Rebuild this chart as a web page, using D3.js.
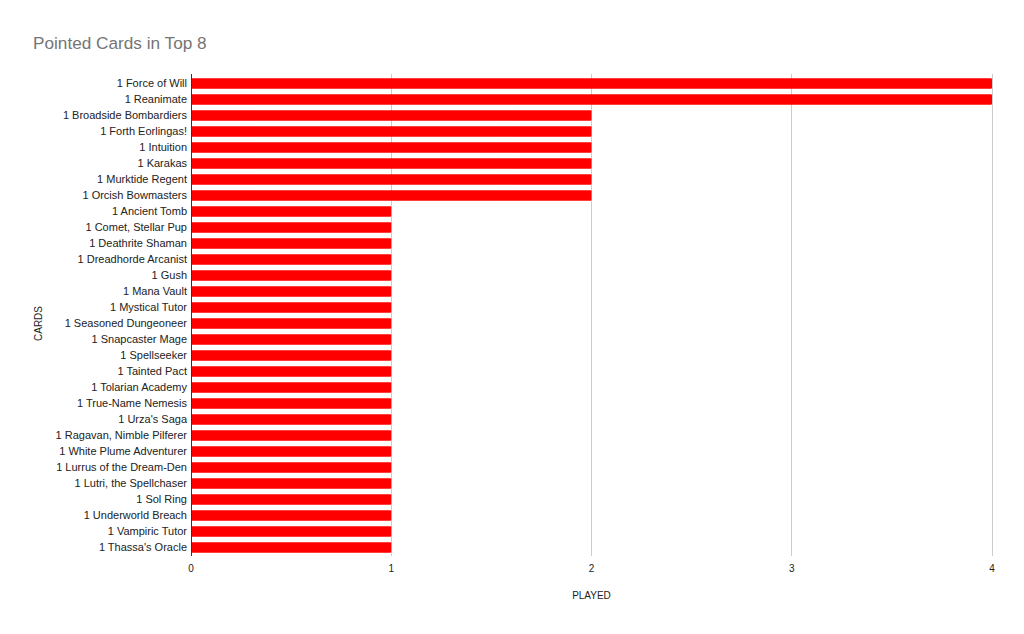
<!DOCTYPE html>
<html><head><meta charset="utf-8">
<script src="https://cdn.jsdelivr.net/npm/d3@7"></script>
<style>body{margin:0;background:#fff;font-family:"Liberation Sans",Arial,sans-serif;}</style>
</head><body>
<svg id="c" width="1024" height="634" font-family="Liberation Sans, Arial, sans-serif"></svg>
<script>
const cards = ["1 Force of Will","1 Reanimate","1 Broadside Bombardiers","1 Forth Eorlingas!","1 Intuition","1 Karakas","1 Murktide Regent","1 Orcish Bowmasters","1 Ancient Tomb","1 Comet, Stellar Pup","1 Deathrite Shaman","1 Dreadhorde Arcanist","1 Gush","1 Mana Vault","1 Mystical Tutor","1 Seasoned Dungeoneer","1 Snapcaster Mage","1 Spellseeker","1 Tainted Pact","1 Tolarian Academy","1 True-Name Nemesis","1 Urza's Saga","1 Ragavan, Nimble Pilferer","1 White Plume Adventurer","1 Lurrus of the Dream-Den","1 Lutri, the Spellchaser","1 Sol Ring","1 Underworld Breach","1 Vampiric Tutor","1 Thassa's Oracle"];
const played = [4,4,2,2,2,2,2,2,1,1,1,1,1,1,1,1,1,1,1,1,1,1,1,1,1,1,1,1,1,1];
const xTicks = [0,1,2,3,4];
const title = "Pointed Cards in Top 8";
const xTitle = "PLAYED";
const yTitle = "CARDS";

const svg = d3.select("#c");
const L = 191, R = 992, T = 74, B = 556;
const x = d3.scaleLinear().domain([0,4]).range([L,R]);
const y = d3.scaleBand().domain(cards).range([75.5,555.5]).paddingInner(0.33).paddingOuter(0.165);

svg.append("text").attr("x",33).attr("y",49).attr("font-size",17.2).attr("fill","#757575").text(title);

svg.append("g").selectAll("line").data(xTicks.slice(1)).join("line")
  .attr("x1",d=>x(d)).attr("x2",d=>x(d)).attr("y1",T).attr("y2",B)
  .attr("stroke","#cccccc").attr("stroke-width",1).attr("shape-rendering","crispEdges");

svg.append("g").selectAll("rect").data(cards).join("rect")
  .attr("x",x(0)).attr("y",d=>y(d)).attr("width",(d,i)=>x(played[i])-x(0))
  .attr("height",y.bandwidth()).attr("fill","#ff0000").attr("rx",1);

svg.append("line").attr("x1",L).attr("x2",L).attr("y1",T).attr("y2",B)
  .attr("stroke","#333").attr("stroke-width",1).attr("shape-rendering","crispEdges");

svg.append("g").selectAll("text").data(cards).join("text")
  .attr("x",187).attr("y",d=>y(d)+y.bandwidth()/2).attr("dy","0.35em")
  .attr("text-anchor","end").attr("font-size",11).attr("fill","#222").text(d=>d);

svg.append("g").selectAll("text").data(xTicks).join("text")
  .attr("x",d=>x(d)).attr("y",571.5).attr("text-anchor","middle")
  .attr("font-size",10).attr("fill","#222").text(d=>d);

svg.append("text").attr("x",(L+R)/2).attr("y",599).attr("text-anchor","middle")
  .attr("font-size",10).attr("fill","#222").text(xTitle);

svg.append("text").attr("transform","translate(42,323.5) rotate(-90)").attr("text-anchor","middle")
  .attr("font-size",10).attr("fill","#222").text(yTitle);
</script>
</body></html>
